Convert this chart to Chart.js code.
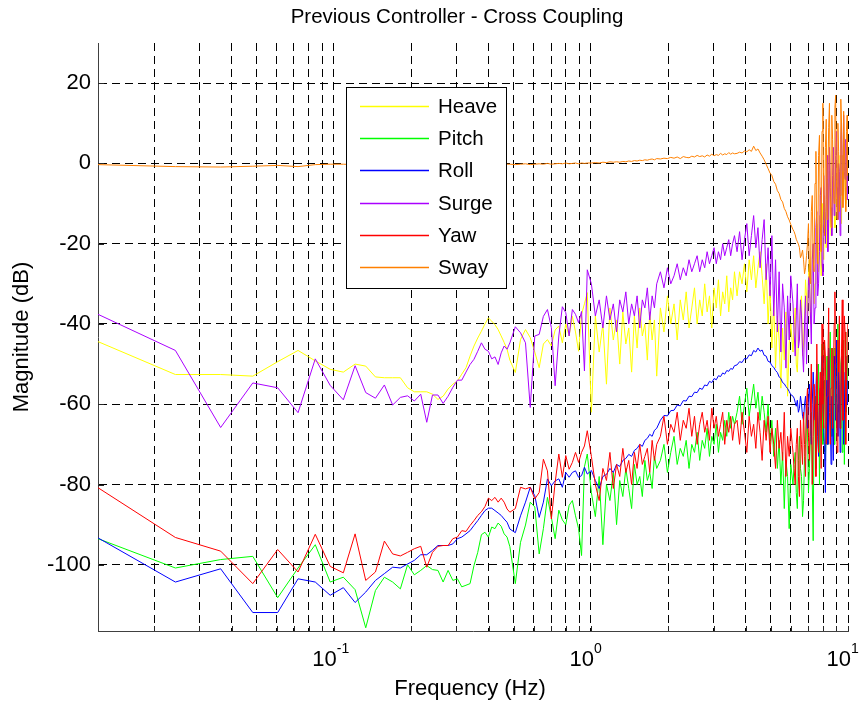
<!DOCTYPE html>
<html>
<head>
<meta charset="utf-8">
<script src="https://cdn.jsdelivr.net/npm/chart.js@4.4.1/dist/chart.umd.min.js"></script>
<style>
  html, body { margin: 0; padding: 0; background: #fff; }
</style>
</head>
<body>
<canvas id="bode" width="864" height="707"></canvas>
<script>
// frequency bins (Hz) - every bin at low freq, sub-sampled above 0.5 Hz
const freq = [
  0.0121,0.0242,0.0363,0.0484,0.0605,0.0726,0.0847,0.0968,0.1089,0.121,
  0.1331,0.1452,0.1573,0.1694,0.1815,0.1936,0.2057,0.2178,0.2299,0.242,
  0.2541,0.2662,0.2783,0.2904,0.3025,0.3146,0.3267,0.3388,0.3509,0.363,
  0.3751,0.3872,0.3993,0.4114,0.4235,0.4356,0.4477,0.4598,0.4719,0.484,
  0.5082,0.5324,0.5566,0.5808,0.605,0.6292,0.6534,0.6776,0.7018,0.726,
  0.7502,0.7744,0.7986,0.8228,0.847,0.8712,0.8954,0.9196,0.9438,0.968,
  1.0043,1.0406,1.0769,1.1132,1.1495,1.1858,1.2221,1.2584,1.2947,1.331,
  1.3673,1.4036,1.4399,1.4762,1.5125,1.5488,1.5851,1.6214,1.6577,1.694,
  1.7303,1.7666,1.8029,
  1.8634,1.9239,1.9844,2.0449,2.1054,2.1659,2.2264,2.2869,2.3474,2.4079,
  2.4684,2.5289,2.5894,2.6499,2.7104,2.7709,2.8314,2.8919,2.9524,3.0129,
  3.0734,3.1339,3.1944,3.2549,3.3154,3.3759,3.4364,3.4969,3.5574,3.6179,
  3.7026,3.7873,3.872,3.9567,4.0414,4.1261,4.2108,4.2955,4.3802,4.4649,
  4.5496,4.6343,4.719,4.8037,4.8884,4.9731,5.0578,5.1425,5.2272,5.3119,
  5.3966,5.4813,5.566,5.6507,5.7354,5.8201,5.9048,5.9895,
  6.1105,6.171,6.2315,6.292,6.3525,6.413,6.4735,6.534,6.5945,6.655,
  6.7155,6.776,6.8365,6.897,6.9575,7.018,7.0785,7.139,7.1995,7.26,
  7.3205,7.381,7.4415,7.502,7.5625,7.623,7.6835,7.744,7.8045,7.865,
  7.9255,7.986,8.0465,8.107,8.1675,8.228,8.2885,8.349,8.4095,8.47,
  8.5305,8.591,8.6515,8.712,8.7725,8.833,8.8935,8.954,9.0145,9.075,
  9.1355,9.196,9.2565,9.317,9.3775,9.438,9.4985,9.559,9.6195,9.68,
  9.7405,9.801,9.8615,9.922,9.9825
];

const heave = [
  -44.4,-52.6,-52.6,-53.0,-49.4,-46.6,-49.2,-51.3,-52.0,-50.0,
  -50.5,-53.2,-53.4,-53.4,-53.4,-55.9,-56.9,-56.9,-56.9,-57.5,
  -58.8,-58.0,-56.2,-55.0,-54.2,-52.5,-50.9,-48.0,-45.5,-43.5,
  -41.8,-40.0,-38.5,-39.3,-40.2,-41.4,-43.0,-44.6,-46.3,-49.0,
  -52.1,-43.9,-41.4,-43.4,-47.0,-50.9,-45.0,-43.9,-45.5,-41.5,
  -40.5,-44.7,-40.0,-43.0,-38.1,-42.0,-46.8,-37.6,-35.0,-32.2,
  -62,-38,-47,-40,-55,-36,-44,-39,-50,-37,-45,-41,-52,-38,-46,-36,-43,-40,-49,-37,-44,-39,-53,
  -36,-42,-33,-40,-35,-44,-34,-39,-32,-41,-36,-31,-40,-34,-38,-30,-37,-33,-41,-31,-36,-29,-38,-32,-35,-28,-37,-31,-34,-27,
  -33,-27,-30,-25,-32,-24,-29,-23,-31,-26,-22,-28,-35,-25,-40,-30,-46,-34,-51,-38,-44,-56,-41,-49,-37,-58,-45,-40,
  -47,-41,-36,-50,-52,-44,-40,-35,-33,-48,
  -45,-38,-29,-33,-38,-28,-24,-40,-34,-22,
  -20,-35,-30,-25,-15,-20,-27,-13,-18,-28,
  -10,-16,-24,-8,-12,-21,-5,-14,-19,-2,
  -8,-18,-14,-9,-3,-12,-16,-1,-6,-14,
  0,-7,-11,2,-4,-15,2,-4,-9,5,
  -1,-10,3,0,-6
];

const pitch = [
  -93.5,-100.8,-98.7,-97.9,-108.2,-100.8,-95.0,-104.3,-103.1,-106.2,
  -115.7,-106.4,-103.1,-104.3,-106.0,-100.0,-102.5,-101.4,-100.2,-101.2,
  -101.4,-104.3,-101.4,-103.9,-103.5,-105.5,-105.1,-104.7,-100.2,-96.9,
  -92.5,-91.9,-93.1,-90.6,-91.0,-89.6,-90.4,-92.3,-93.1,-95.5,
  -104.7,-94.4,-90.1,-84.4,-85.6,-97.3,-91.0,-83.2,-88.2,-93.5,
  -86.4,-88.8,-90.0,-85.2,-84.0,-87.8,-91.0,-97.7,-75.6,-72.4,
  -82,-88,-78,-95,-80,-84,-77,-90,-79,-83,-76,-81,-86,-75,-80,-78,-83,-74,-79,-77,-81,-73,-76,
  -74,-70,-77,-72,-68,-75,-71,-73,-69,-76,-70,-72,-67,-74,-69,-71,-66,-73,-68,-70,-65,-72,-67,-69,-64,-68,-62,-66,-63,-65,
  -62,-58,-65,-60,-56,-63,-59,-55,-61,-57,-64,-58,-62,-67,-60,-70,-64,-73,-66,-76,-69,-80,-72,-86,-74,-78,-91,-75,
  -80,-75,-72,-82,-86,-74,-68,-76,-78,-88,
  -84,-73,-70,-60,-65,-82,-76,-68,-62,-79,
  -94,-64,-58,-76,-70,-55,-50,-80,-66,-52,
  -45,-70,-60,-54,-74,-63,-48,-70,-56,-50,
  -42,-60,-68,-46,-52,-70,-46,-58,-64,-50,
  -40,-62,-58,-66,-50,-48,-72,-58,-44,-75,
  -54,-42,-62,-55,-48
];

const roll = [
  -93.3,-104.3,-101.0,-111.9,-111.9,-103.5,-104.3,-107.6,-105.7,-109.4,
  -106.8,-103.9,-102.2,-100.6,-100.8,-99.8,-98.9,-97.5,-97.5,-96.4,
  -95.2,-95.2,-95.2,-94.8,-93.5,-93.1,-92.3,-91.5,-90.2,-89.0,
  -87.7,-86.5,-85.9,-85.9,-86.5,-87.1,-87.7,-88.6,-89.4,-91.1,
  -92.0,-87.8,-84.4,-80.7,-82.8,-88.2,-84.4,-78.6,-80.3,-79.1,
  -78.6,-80.7,-77.0,-78.2,-77.0,-76.6,-78.2,-77.8,-75.7,-77.4,
  -76.5,-79,-81,-78,-77.5,-76,-77,-75,-75.5,-74,-73.5,-72.5,-73,-71.5,-71,-70,-70.5,-69,-68.5,-67.5,-68,-66.5,-66,
  -64,-62.8,-62.9,-61.6,-61.5,-60.2,-60.4,-59.1,-59.2,-58,-58.1,-57,-57.1,-56,-56.3,-55.2,-55.4,-54.3,-54.6,-53.6,-53.9,-52.9,-53.1,-52.2,-52.5,-51.6,-51.8,-51.1,-51.3,-50.4,
  -50.2,-49.4,-49.6,-48.6,-48.7,-47.7,-47.9,-46.6,-47,-46,-46.8,-46.5,-47.8,-48,-49.3,-49.5,-50.4,-50.8,-51.6,-52.1,-53.2,-53.6,-54.6,-54.9,-55.6,-56.1,-56.8,-57.6,
  -58,-58.5,-59.5,-60.5,-59,-62,-61,-58,-60,-63,
  -64,-60,-58,-63,-66,-59,-55,-62,-70,-60,
  -52,-58,-64,-56,-50,-68,-73,-60,-56,-64,
  -48,-58,-66,-72,-82,-60,-54,-70,-46,-52,
  -62,-75,-58,-66,-74,-48,-50,-64,-44,-60,
  -68,-52,-55,-72,-62,-50,-48,-58,-70,-62,
  -52,-48,-56,-60,-54
];

const surge = [
  -37.6,-46.6,-65.8,-54.7,-55.9,-62.1,-48.7,-55.3,-58.9,-50.4,
  -57.1,-58.5,-55.2,-60.2,-58.3,-57.9,-59.2,-57.5,-64.5,-57.7,
  -57.7,-59.8,-58.0,-55.8,-54.0,-54.0,-52.0,-50.1,-48.8,-46.8,
  -44.7,-46.3,-46.8,-48.7,-48.2,-50.1,-47.2,-45.5,-46.3,-44.7,
  -40.7,-42.2,-44.7,-60.8,-43.0,-42.6,-38.1,-36.4,-40.9,-55.4,
  -43.0,-35.7,-37.2,-43.0,-36.4,-37.6,-39.7,-36.9,-51.7,-26.5,
  -30,-38,-34,-41,-33,-39,-35,-42,-34,-37,-32,-40,-35,-38,-33,-41,-34,-36,-31,-39,-33,-36,-30,
  -27,-31,-26,-30,-28,-25,-29,-26,-28,-24,-27,-25,-23,-27,-24,-26,-22,-25,-23,-21,-25,-22,-24,-20,-23,-21,-19,-23,-20,-18,
  -22,-17,-24,-19,-15,-23,-18,-13,-21,-16,-26,-19,-14,-29,-21,-33,-18,-38,-24,-42,-27,-47,-30,-36,-51,-33,-44,-28,
  -35,-42,-48,-38,-30,-46,-44,-34,-38,-47,
  -52,-40,-33,-50,-41,-29,-28,-37,-45,-24,
  -20,-40,-36,-16,-12,-33,-30,-22,-8,-6,
  -25,-28,-3,-12,-20,-9,2,-22,-15,4,
  -6,-11,-18,-3,4,-13,-10,2,8,-6,
  -14,0,-2,-18,6,10,-8,-5,12,-2,
  -4,6,3,-9,-1
];

const yaw = [
  -80.8,-93.2,-96.6,-104.7,-96.2,-101.8,-92.4,-100.4,-102.0,-92.3,
  -103.9,-101.8,-94.1,-97.3,-97.8,-96.9,-96.0,-95.4,-100.6,-96.9,
  -95.4,-95.2,-95.2,-93.5,-93.1,-91.5,-91.7,-90.2,-89.0,-87.7,
  -86.8,-85.5,-83.4,-84.0,-83.2,-84.4,-83.4,-84.4,-86.1,-86.9,
  -86.0,-80.7,-81.1,-80.7,-83.6,-82.0,-73.7,-76.6,-88.6,-79.5,
  -72.4,-78.2,-72.8,-76.2,-74.5,-72.0,-74.5,-72.0,-70.4,-66.6,
  -73,-80,-84,-76,-79,-72,-81,-75,-78,-71,-77,-74,-80,-72,-76,-70,-75,-73,-71,-77,-69,-74,-70,
  -68,-63,-70,-65,-67,-62,-69,-64,-66,-61,-68,-63,-70,-65,-62,-67,-64,-69,-61,-66,-63,-68,-65,-62,-70,-64,-67,-63,-69,-65,
  -64,-70,-62,-67,-72,-63,-68,-65,-71,-62,-67,-74,-64,-69,-63,-72,-66,-70,-76,-64,-71,-67,-74,-62,-78,-68,-73,-66,
  -72,-76,-80,-70,-66,-78,-83,-64,-70,-75,
  -62,-70,-78,-60,-56,-68,-74,-62,-50,-80,
  -68,-55,-60,-78,-45,-62,-72,-58,-52,-76,
  -40,-60,-66,-44,-48,-70,-58,-50,-36,-62,
  -70,-56,-46,-66,-54,-40,-32,-58,-64,-72,
  -44,-52,-38,-66,-60,-46,-34,-64,-50,-38,
  -42,-70,-56,-48,-40
];

const sway = [
  -0.3,-0.8,-0.9,-0.7,-0.5,-0.8,-0.3,-0.2,-0.2,-0.3,
  -0.4,-0.2,-0.3,-0.2,-0.1,-0.3,-0.2,-0.4,-0.2,-0.3,
  -0.2,-0.1,-0.3,-0.2,-0.2,-0.1,-0.3,-0.2,-0.1,-0.2,
  -0.3,-0.2,-0.1,-0.2,-0.3,-0.2,-0.1,-0.3,-0.2,-0.2,
  -0.3,-0.2,-0.1,-0.3,-0.2,-0.1,-0.2,0.0,-0.2,-0.1,
  0.0,-0.1,0.1,-0.1,0.0,0.1,-0.1,0.1,0.0,0.1,
  0.1,0.2,0.1,0.3,0.2,0.4,0.3,0.4,0.3,0.5,0.4,0.6,0.5,0.7,0.6,0.8,0.7,0.9,0.8,1.0,1.1,0.9,1.2,
  1.1,1.3,1.2,1.5,1.3,1.6,1.2,1.7,1.5,1.4,1.8,1.6,2.0,1.7,1.9,1.6,2.1,1.8,2.3,1.9,2.2,2.0,2.5,2.1,2.4,2.2,2.7,2.3,2.6,2.4,
  2.5,2.8,2.6,3.1,2.9,3.4,3.0,4.3,3.2,3.6,2.6,1.8,0.9,-0.2,-1.3,-2.4,-3.0,-4.5,-5.2,-6.8,-7.5,-9.0,-9.6,-11.2,-12.0,-13.3,-14.1,-15.2,
  -16.5,-17.0,-17.8,-18.9,-19.5,-20.1,-21,-23.5,-22.8,-21.6,
  -24,-27.5,-26,-23,-20,-15,-28,-30,-12,-8,
  -24,-27,-5,3,-20,-25,2,7,-15,-22,
  8,15,-10,-18,4,11,-14,-4,9,15,
  -8,-16,12,6,-6,-10,14,17,-4,-14,
  10,3,-12,-8,16,10,-2,-11,13,5,
  -6,-12,8,12,-3
];

const seriesNames = ["Heave", "Pitch", "Roll", "Surge", "Yaw", "Sway"];
const seriesColors = ["#ffff00", "#00ff00", "#0000ff", "#aa00ff", "#ff0000", "#ff8000"];
const seriesValues = [heave, pitch, roll, surge, yaw, sway];

// axis ticks / grid
const xGrid = [0.02,0.03,0.04,0.05,0.06,0.07,0.08,0.09,0.1,0.2,0.3,0.4,0.5,0.6,0.7,0.8,0.9,1,2,3,4,5,6,7,8,9,10];
const xLabels = [{v: 0.1, exp: "-1"}, {v: 1, exp: "0"}, {v: 10, exp: "1"}];
const yTicks = [-100, -80, -60, -40, -20, 0, 20];

const FONT = "'Liberation Sans', Arial, sans-serif";

// title, x labels, inner tick marks and the boxed legend, matlab style
const matlabDecor = {
  id: "matlabDecor",
  afterDraw(chart) {
    const ctx = chart.ctx;
    const xs = chart.scales.x, ys = chart.scales.y;
    const a = chart.chartArea;
    ctx.save();

    ctx.setLineDash([]);
    ctx.strokeStyle = "#262626";
    ctx.lineWidth = 1;
    ctx.beginPath();
    xGrid.forEach(v => {
      const px = Math.round(xs.getPixelForValue(v)) + 0.5;
      ctx.moveTo(px, a.bottom);
      ctx.lineTo(px, a.bottom - 5);
    });
    yTicks.forEach(v => {
      const py = Math.round(ys.getPixelForValue(v)) + 0.5;
      ctx.moveTo(a.left, py);
      ctx.lineTo(a.left + 6, py);
    });
    ctx.stroke();

    ctx.fillStyle = "#000";
    // decade labels with raised exponent
    xLabels.forEach(l => {
      const px = xs.getPixelForValue(l.v);
      ctx.font = "22px " + FONT;
      ctx.textAlign = "right";
      ctx.textBaseline = "alphabetic";
      ctx.fillText("10", px + 3, 666);
      ctx.font = "14px " + FONT;
      ctx.textAlign = "left";
      ctx.fillText(l.exp, px + 3, 653);
    });

    ctx.font = "22px " + FONT;
    ctx.textAlign = "center";
    ctx.textBaseline = "middle";
    ctx.fillText("Frequency (Hz)", 470, 689);
    ctx.font = "20.5px " + FONT;
    ctx.fillText("Previous Controller - Cross Coupling", 457, 17);

    // legend box
    const lx = 346.5, ly = 87.5, lw = 160, lh = 201;
    ctx.fillStyle = "#fff";
    ctx.fillRect(lx, ly, lw, lh);
    ctx.strokeStyle = "#000";
    ctx.lineWidth = 1;
    ctx.strokeRect(lx, ly, lw, lh);
    ctx.font = "20.5px " + FONT;
    ctx.textAlign = "left";
    seriesNames.forEach((name, i) => {
      const ry = Math.round(106 + i * 32.2);
      ctx.strokeStyle = seriesColors[i];
      ctx.lineWidth = 1.5;
      ctx.beginPath();
      ctx.moveTo(360, ry + 0.5);
      ctx.lineTo(429, ry + 0.5);
      ctx.stroke();
      ctx.fillStyle = "#000";
      ctx.fillText(name, 438, ry + 1);
    });
    ctx.restore();
  }
};

const datasets = seriesNames.map((name, i) => ({
  label: name,
  data: freq.map((f, j) => ({x: f, y: seriesValues[i][j]})),
  borderColor: seriesColors[i],
  borderWidth: 1,
  pointRadius: 0,
  tension: 0,
  fill: false,
  order: seriesNames.length - i  // later series painted on top
}));

const chart = new Chart(document.getElementById("bode"), {
  type: "line",
  data: {datasets: datasets},
  plugins: [matlabDecor],
  options: {
    responsive: false,
    animation: false,
    devicePixelRatio: 1,
    layout: {padding: {top: 43, right: 16, left: 0, bottom: 0}},
    plugins: {legend: {display: false}, title: {display: false}, tooltip: {enabled: false}},
    scales: {
      x: {
        type: "logarithmic",
        min: 0.0121,
        max: 10,
        afterBuildTicks: s => { s.ticks = xGrid.map(v => ({value: v})); },
        afterFit: s => { s.height = 76; },
        ticks: {display: false},
        grid: {color: "#000", lineWidth: 1, drawTicks: false},
        border: {display: true, color: "#404040", width: 1, dash: [8, 5]}
      },
      y: {
        type: "linear",
        min: -116.5,
        max: 30,
        afterBuildTicks: s => { s.ticks = yTicks.map(v => ({value: v})); },
        afterFit: s => { s.width = 98; },
        ticks: {color: "#000", padding: 7, font: {family: FONT, size: 22}},
        grid: {color: "#000", lineWidth: 1, drawTicks: false},
        border: {display: true, color: "#404040", width: 1, dash: [8, 5]},
        title: {display: true, text: "Magnitude (dB)", color: "#000",
                font: {family: FONT, size: 22}, padding: {top: 9, bottom: 0}}
      }
    }
  }
});
</script>
</body>
</html>
